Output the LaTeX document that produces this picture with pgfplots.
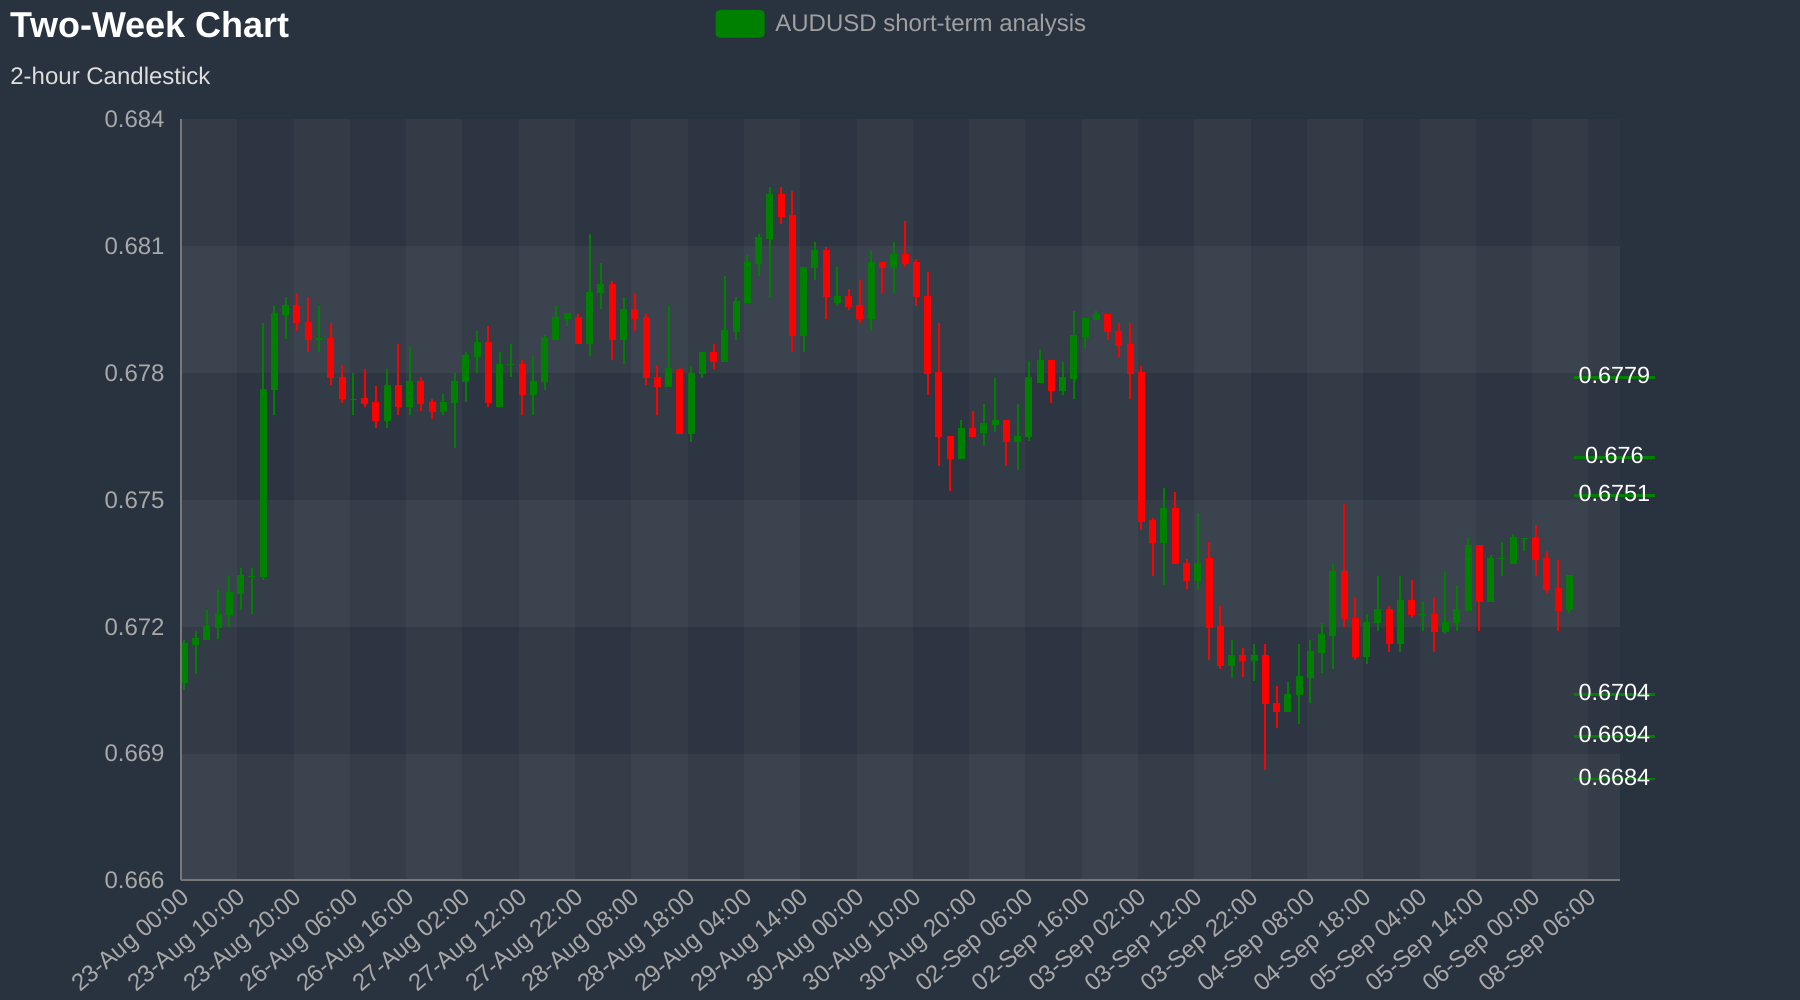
\documentclass[border=0pt]{standalone}
\usepackage{pgfplots}
\pgfplotsset{compat=1.18}
\usepackage{pgfplotstable}
\usepackage{fontspec}
\setmainfont{Liberation Sans}
\definecolor{cbg}{HTML}{29333F}
\definecolor{cbase}{HTML}{2C3541}
\definecolor{cgreen}{HTML}{008000}
\definecolor{cred}{HTML}{FF0000}
\definecolor{ctick}{HTML}{A8A8A8}
\definecolor{clegend}{HTML}{A0A0A0}
\definecolor{csub}{HTML}{DDDDDD}
\definecolor{caxis}{HTML}{787878}

\pgfplotstableread{
x o h l c
0 0.67068 0.67170 0.67050 0.67162
1 0.67158 0.67189 0.67089 0.67174
2 0.67168 0.67239 0.67168 0.67201
3 0.67197 0.67288 0.67171 0.67231
4 0.67228 0.67320 0.67200 0.67282
5 0.67278 0.67339 0.67239 0.67322
6 0.67318 0.67339 0.67231 0.67320
7 0.67318 0.67919 0.67310 0.67762
8 0.67759 0.67960 0.67701 0.67942
9 0.67938 0.67980 0.67881 0.67962
12 0.67879 0.67960 0.67851 0.67882
15 0.67738 0.67800 0.67701 0.67740
18 0.67688 0.67810 0.67671 0.67772
20 0.67719 0.67861 0.67701 0.67782
23 0.67709 0.67750 0.67701 0.67732
24 0.67729 0.67800 0.67622 0.67782
25 0.67779 0.67849 0.67731 0.67843
26 0.67839 0.67900 0.67800 0.67873
28 0.67719 0.67850 0.67719 0.67822
29 0.67820 0.67869 0.67791 0.67822
31 0.67748 0.67841 0.67701 0.67782
32 0.67778 0.67891 0.67761 0.67883
33 0.67879 0.67960 0.67879 0.67932
34 0.67929 0.67942 0.67911 0.67942
36 0.67868 0.68130 0.67841 0.67993
37 0.67989 0.68061 0.67952 0.68012
39 0.67879 0.67980 0.67821 0.67952
43 0.67768 0.67960 0.67768 0.67812
45 0.67655 0.67817 0.67638 0.67801
46 0.67797 0.67851 0.67789 0.67851
48 0.67826 0.68030 0.67826 0.67901
49 0.67898 0.67979 0.67879 0.67971
50 0.67967 0.68080 0.67967 0.68062
51 0.68059 0.68130 0.68030 0.68122
52 0.68118 0.68241 0.67979 0.68223
55 0.67888 0.68052 0.67850 0.68052
56 0.68048 0.68110 0.68021 0.68092
58 0.67967 0.68050 0.67959 0.67982
61 0.67927 0.68090 0.67900 0.68062
63 0.68048 0.68110 0.67990 0.68083
69 0.67597 0.67689 0.67597 0.67671
71 0.67659 0.67728 0.67630 0.67681
72 0.67678 0.67789 0.67660 0.67690
74 0.67638 0.67728 0.67571 0.67651
75 0.67648 0.67827 0.67640 0.67791
76 0.67776 0.67857 0.67776 0.67830
78 0.67757 0.67827 0.67749 0.67791
79 0.67786 0.67948 0.67739 0.67890
80 0.67886 0.67930 0.67859 0.67930
81 0.67926 0.67948 0.67926 0.67941
87 0.67398 0.67529 0.67300 0.67482
90 0.67308 0.67469 0.67289 0.67352
93 0.67107 0.67170 0.67081 0.67133
95 0.67118 0.67160 0.67072 0.67133
98 0.66999 0.67070 0.66999 0.67042
99 0.67038 0.67160 0.66971 0.67083
100 0.67079 0.67170 0.67020 0.67142
101 0.67137 0.67210 0.67091 0.67182
102 0.67178 0.67349 0.67100 0.67331
105 0.67129 0.67230 0.67111 0.67211
106 0.67209 0.67320 0.67190 0.67241
108 0.67159 0.67320 0.67141 0.67263
110 0.67228 0.67261 0.67191 0.67230
112 0.67188 0.67330 0.67182 0.67212
113 0.67208 0.67300 0.67191 0.67242
114 0.67238 0.67410 0.67238 0.67393
116 0.67259 0.67370 0.67259 0.67362
117 0.67360 0.67400 0.67321 0.67362
118 0.67349 0.67419 0.67349 0.67412
119 0.67408 0.67411 0.67380 0.67411
123 0.67240 0.67322 0.67232 0.67322
}\greendata

\pgfplotstableread{
x o h l c
10 0.67962 0.67990 0.67900 0.67919
11 0.67922 0.67980 0.67850 0.67879
13 0.67883 0.67919 0.67771 0.67788
14 0.67792 0.67820 0.67730 0.67738
16 0.67742 0.67810 0.67721 0.67728
17 0.67732 0.67770 0.67671 0.67688
19 0.67772 0.67870 0.67701 0.67719
21 0.67782 0.67790 0.67711 0.67728
22 0.67732 0.67739 0.67691 0.67709
27 0.67873 0.67911 0.67721 0.67729
30 0.67822 0.67830 0.67701 0.67748
35 0.67932 0.67940 0.67868 0.67868
38 0.68012 0.68019 0.67830 0.67879
40 0.67952 0.67989 0.67900 0.67929
41 0.67932 0.67940 0.67771 0.67789
42 0.67792 0.67820 0.67701 0.67768
44 0.67811 0.67812 0.67655 0.67657
47 0.67851 0.67869 0.67809 0.67826
53 0.68223 0.68241 0.68152 0.68169
54 0.68173 0.68231 0.67850 0.67888
57 0.68092 0.68098 0.67929 0.67979
59 0.67982 0.67999 0.67949 0.67957
60 0.67961 0.68021 0.67919 0.67927
62 0.68063 0.68063 0.67990 0.68048
64 0.68083 0.68161 0.68050 0.68059
65 0.68062 0.68070 0.67959 0.67979
66 0.67982 0.68040 0.67748 0.67797
67 0.67802 0.67918 0.67580 0.67648
68 0.67652 0.67652 0.67521 0.67597
70 0.67671 0.67710 0.67648 0.67648
73 0.67690 0.67690 0.67580 0.67638
77 0.67830 0.67830 0.67729 0.67757
82 0.67940 0.67940 0.67879 0.67897
83 0.67900 0.67918 0.67839 0.67865
84 0.67869 0.67918 0.67739 0.67797
85 0.67802 0.67818 0.67430 0.67448
86 0.67452 0.67458 0.67320 0.67398
88 0.67482 0.67519 0.67348 0.67348
89 0.67352 0.67360 0.67289 0.67308
91 0.67363 0.67400 0.67121 0.67198
92 0.67202 0.67250 0.67100 0.67107
94 0.67133 0.67150 0.67081 0.67118
96 0.67133 0.67160 0.66861 0.67018
97 0.67021 0.67060 0.66961 0.66999
103 0.67331 0.67490 0.67200 0.67218
104 0.67222 0.67270 0.67121 0.67129
107 0.67241 0.67250 0.67140 0.67159
109 0.67263 0.67311 0.67221 0.67228
111 0.67230 0.67269 0.67141 0.67188
115 0.67393 0.67393 0.67191 0.67259
120 0.67412 0.67440 0.67321 0.67359
121 0.67363 0.67379 0.67281 0.67288
122 0.67292 0.67359 0.67191 0.67238
}\reddata

\begin{document}
\begin{tikzpicture}
\fill[cbg] (0,0) rectangle (900pt,500pt);
\useasboundingbox (0,0) rectangle (900pt,500pt);

\node[anchor=base west, inner sep=0pt, text=white, font=\bfseries\fontsize{18}{20}\selectfont] at (5.25pt,481.35pt) {Two-Week Chart};
\node[anchor=base west, inner sep=0pt, text=csub, font=\fontsize{12}{14}\selectfont] at (5pt,457.5pt) {2-hour Candlestick};
\fill[cgreen, rounded corners=2pt] (357.75pt,481.15pt) rectangle (382.3pt,495pt);
\node[anchor=base west, inner sep=0pt, text=clegend, font=\fontsize{12}{14}\selectfont] at (387.5pt,484.15pt) {AUDUSD short-term analysis};

\begin{axis}[
  at={(90.5pt,59.75pt)}, anchor=south west,
  scale only axis, width=719.5pt, height=380.5pt,
  xmin=0, xmax=127.8, ymin=0.666, ymax=0.684,
  clip=false, axis on top,
  axis x line*=bottom, axis y line*=left,
  axis line style={draw=caxis, line width=1pt, -},
  major tick length=0pt,
  xtick={0,5,...,125},
  xticklabels={23-Aug 00:00,23-Aug 10:00,23-Aug 20:00,26-Aug 06:00,26-Aug 16:00,27-Aug 02:00,27-Aug 12:00,27-Aug 22:00,28-Aug 08:00,28-Aug 18:00,29-Aug 04:00,29-Aug 14:00,30-Aug 00:00,30-Aug 10:00,30-Aug 20:00,02-Sep 06:00,02-Sep 16:00,03-Sep 02:00,03-Sep 12:00,03-Sep 22:00,04-Sep 08:00,04-Sep 18:00,05-Sep 04:00,05-Sep 14:00,06-Sep 00:00,08-Sep 06:00},
  ytick={0.666,0.669,0.672,0.675,0.678,0.681,0.684},
  yticklabels={0.666,0.669,0.672,0.675,0.678,0.681,0.684},
  scaled y ticks=false, scaled x ticks=false,
  tick label style={text=ctick, font=\fontsize{12}{14}\selectfont},
  xticklabel style={inner sep=0pt, xshift=3pt, yshift=-7.5pt, rotate=40, anchor=east},
  yticklabel style={inner sep=0pt, xshift=-8pt, anchor=east},
]
% plot area bands
\fill[cbase] (axis cs:0,0.666) rectangle (axis cs:127.8,0.684);
\fill[white, opacity=0.045] (axis cs:0,0.666) rectangle (axis cs:127.8,0.669);
\fill[white, opacity=0.045] (axis cs:0,0.672) rectangle (axis cs:127.8,0.675);
\fill[white, opacity=0.045] (axis cs:0,0.678) rectangle (axis cs:127.8,0.681);
\fill[white, opacity=0.03] (axis cs:0,0.666) rectangle (axis cs:5,0.684);
\fill[white, opacity=0.03] (axis cs:10,0.666) rectangle (axis cs:15,0.684);
\fill[white, opacity=0.03] (axis cs:20,0.666) rectangle (axis cs:25,0.684);
\fill[white, opacity=0.03] (axis cs:30,0.666) rectangle (axis cs:35,0.684);
\fill[white, opacity=0.03] (axis cs:40,0.666) rectangle (axis cs:45,0.684);
\fill[white, opacity=0.03] (axis cs:50,0.666) rectangle (axis cs:55,0.684);
\fill[white, opacity=0.03] (axis cs:60,0.666) rectangle (axis cs:65,0.684);
\fill[white, opacity=0.03] (axis cs:70,0.666) rectangle (axis cs:75,0.684);
\fill[white, opacity=0.03] (axis cs:80,0.666) rectangle (axis cs:85,0.684);
\fill[white, opacity=0.03] (axis cs:90,0.666) rectangle (axis cs:95,0.684);
\fill[white, opacity=0.03] (axis cs:100,0.666) rectangle (axis cs:105,0.684);
\fill[white, opacity=0.03] (axis cs:110,0.666) rectangle (axis cs:115,0.684);
\fill[white, opacity=0.03] (axis cs:120,0.666) rectangle (axis cs:125,0.684);

% wicks
\addplot[draw=none, mark=none, forget plot, error bars/.cd, y dir=minus, y explicit, error mark=none,
  error bar style={draw=cgreen, line width=1pt}]
  table[x expr=\thisrow{x}+0.3, y=h, y error minus expr=\thisrow{h}-\thisrow{l}] {\greendata};
\addplot[draw=none, mark=none, forget plot, error bars/.cd, y dir=minus, y explicit, error mark=none,
  error bar style={draw=cred, line width=1pt}]
  table[x expr=\thisrow{x}+0.3, y=h, y error minus expr=\thisrow{h}-\thisrow{l}] {\reddata};
% bodies
\addplot[draw=none, mark=none, forget plot, error bars/.cd, y dir=minus, y explicit, error mark=none,
  error bar style={draw=cgreen, line width=3.5pt}]
  table[x expr=\thisrow{x}+0.3, y=c, y error minus expr=\thisrow{c}-\thisrow{o}] {\greendata};
\addplot[draw=none, mark=none, forget plot, error bars/.cd, y dir=minus, y explicit, error mark=none,
  error bar style={draw=cred, line width=3.5pt}]
  table[x expr=\thisrow{x}+0.3, y=o, y error minus expr=\thisrow{o}-\thisrow{c}] {\reddata};

% level lines on the right
\addplot[cgreen, line width=1.35pt, forget plot] coordinates {(123.7,0.6779) (130.9,0.6779)};
\addplot[cgreen, line width=1.35pt, forget plot] coordinates {(123.7,0.6760) (130.9,0.6760)};
\addplot[cgreen, line width=1.35pt, forget plot] coordinates {(123.7,0.6751) (130.9,0.6751)};
\addplot[cgreen, line width=1.35pt, forget plot] coordinates {(123.7,0.6704) (130.9,0.6704)};
\addplot[cgreen, line width=1.35pt, forget plot] coordinates {(123.7,0.6694) (130.9,0.6694)};
\addplot[cgreen, line width=1.35pt, forget plot] coordinates {(123.7,0.6684) (130.9,0.6684)};
\node[text=white, inner sep=0pt, yshift=1pt, font=\fontsize{11.7}{14}\selectfont] at (axis cs:127.3,0.6779) {0.6779};
\node[text=white, inner sep=0pt, yshift=1pt, font=\fontsize{11.7}{14}\selectfont] at (axis cs:127.3,0.6760) {0.676};
\node[text=white, inner sep=0pt, yshift=1pt, font=\fontsize{11.7}{14}\selectfont] at (axis cs:127.3,0.6751) {0.6751};
\node[text=white, inner sep=0pt, yshift=1pt, font=\fontsize{11.7}{14}\selectfont] at (axis cs:127.3,0.6704) {0.6704};
\node[text=white, inner sep=0pt, yshift=1pt, font=\fontsize{11.7}{14}\selectfont] at (axis cs:127.3,0.6694) {0.6694};
\node[text=white, inner sep=0pt, yshift=1pt, font=\fontsize{11.7}{14}\selectfont] at (axis cs:127.3,0.6684) {0.6684};
\end{axis}
\end{tikzpicture}
\end{document}
